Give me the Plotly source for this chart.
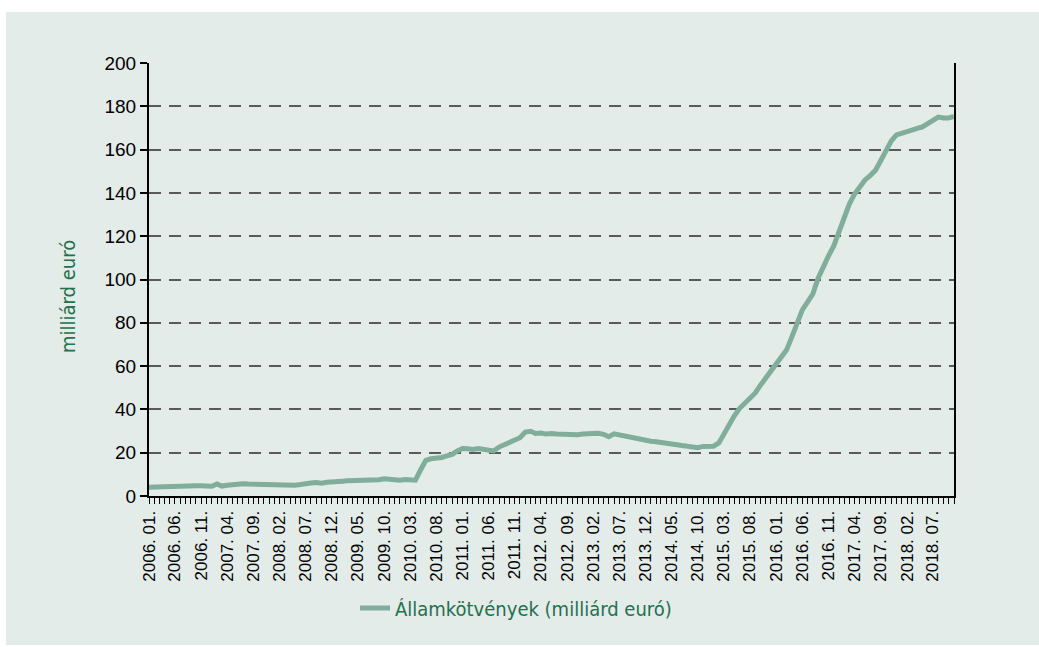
import pandas as pd
import plotly.graph_objects as go

# Monthly categories: 2006.01 – 2018.11
months = pd.date_range("2006-01-01", "2018-11-01", freq="MS")

# Államkötvények (milliárd euró)
values = [
    4.0, 4.1, 4.1, 4.2, 4.2, 4.3, 4.6, 5.0, 4.8, 4.7, 4.7, 4.6, 4.5,
    5.6, 4.6, 5.0, 5.4, 5.7, 5.7, 5.5, 5.4, 5.5, 5.7, 5.6, 5.4,
    5.2, 5.0, 5.0, 5.0, 5.3, 5.8, 6.0, 6.2, 5.9, 6.3, 6.3, 6.4,
    6.8, 7.0, 7.0, 7.0, 7.0, 7.2, 7.3, 7.5, 8.0, 7.6, 7.5, 7.3,
    7.6, 7.2, 7.3, 12.0, 16.5, 17.2, 17.4, 17.8, 18.5, 19.2, 20.8, 21.9,
    21.8, 21.5, 21.9, 21.5, 21.1, 20.8, 22.6, 23.8, 24.6, 25.8, 26.9, 29.5,
    29.9, 28.9, 29.1, 28.6, 28.9, 28.6, 28.5, 28.2, 28.1, 28.3, 28.6, 28.9,
    29.2, 29.0, 28.5, 27.4, 28.7, 28.2, 27.8, 27.0, 26.6, 26.1, 25.7, 25.3,
    25.1, 24.9, 24.6, 24.2, 23.7, 23.3, 22.9, 22.5, 22.3, 22.9, 23.0, 23.0,
    24.5, 28.7, 32.8, 36.9, 40.4, 42.8, 45.2, 47.6, 51.2, 54.6, 58.0, 61.0,
    64.2, 67.4, 73.5, 80.3, 86.0, 89.5, 93.3, 100.6, 106.0, 111.0, 115.5, 122.0,
    128.0, 134.7, 139.5, 143.0, 146.0, 148.0, 150.5, 155.0, 160.0, 164.0, 166.8, 167.4,
    168.0, 169.0, 169.8, 170.5, 172.0, 173.8, 175.0, 174.6, 174.6, 175.3,
]

series_name = "Államkötvények (milliárd euró)"
y_title = "milliárd euró"
y_ticks = [0, 20, 40, 60, 80, 100, 120, 140, 160, 180, 200]

PANEL = "#E4ECE9"
LINE = "#80AD9C"
GREEN_TXT = "#24704F"
NARROW = "Liberation Sans Narrow, DejaVu Sans Condensed, Roboto, sans-serif"
TICKFONT = "Liberation Sans, Arial, sans-serif"

fig = go.Figure()
fig.add_trace(go.Scatter(
    x=months, y=values, mode="lines", name=series_name,
    line=dict(color=LINE, width=5),
))

W, H = 1039, 647
L, R, T, B = 149, 85, 63, 151
pw, ph = W - L - R, H - T - B

def px_x(p):
    return (p - L) / pw

def px_y(p):
    return (H - B - p) / ph

fig.update_layout(
    width=W, height=H,
    margin=dict(l=L, r=R, t=T, b=B, pad=0),
    paper_bgcolor="white",
    plot_bgcolor=PANEL,
    showlegend=True,
    legend=dict(
        orientation="h", x=px_x(516), y=px_y(608),
        xanchor="center", yanchor="middle",
        font=dict(family=NARROW, size=20, color=GREEN_TXT),
        bgcolor="rgba(0,0,0,0)",
    ),
    shapes=[dict(
        type="rect", xref="paper", yref="paper", layer="below",
        x0=px_x(6), x1=px_x(1039), y0=px_y(645), y1=px_y(12),
        fillcolor=PANEL, line=dict(width=0),
    )],
    annotations=[dict(
        text=y_title, xref="paper", yref="paper",
        x=px_x(68), y=px_y(297), textangle=-90, showarrow=False,
        xanchor="center", yanchor="middle",
        font=dict(family=NARROW, size=20, color=GREEN_TXT),
    )],
)

fig.update_xaxes(
    type="date",
    range=[months[0], months[-1]],
    tick0="2006-01-01", dtick="M5", tickformat="%Y. %m.",
    tickangle=-90,
    ticks="outside", ticklen=6, tickwidth=1, tickcolor="black",
    minor=dict(dtick="M1", ticks="outside", ticklen=6, tickwidth=1, tickcolor="black"),
    showline=True, linecolor="black", linewidth=2,
    showgrid=False, zeroline=False,
    tickfont=dict(family=TICKFONT, size=17, color="black"),
)
fig.update_yaxes(
    range=[0, 200], tickvals=y_ticks,
    ticks="outside", ticklen=7, tickwidth=2, tickcolor="black",
    showline=True, linecolor="black", linewidth=2, mirror=True,
    showgrid=True, gridcolor="#5A5A5A", gridwidth=1.5, griddash="12px,8px",
    zeroline=False,
    tickfont=dict(family=TICKFONT, size=19, color="black"),
)

fig.write_html("out.html")
